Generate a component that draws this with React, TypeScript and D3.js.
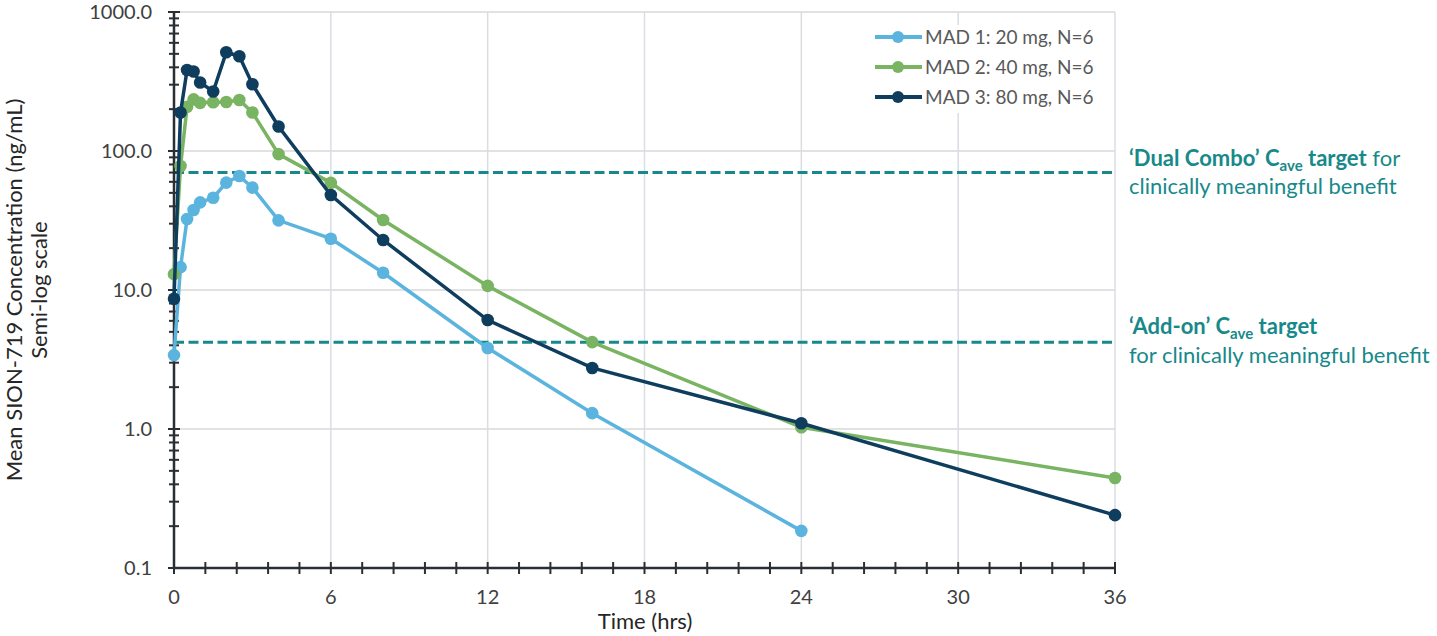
import React from "react";
import * as d3 from "d3";

const times = [0, 0.25, 0.5, 0.75, 1, 1.5, 2, 2.5, 3, 4, 6, 8, 12, 16, 24, 36];
const mad1 = [3.4, 14.6, 32.4, 37.6, 42.7, 46.1, 59.2, 66.1, 54.5, 31.7, 23.4, 13.3, 3.83, 1.3, 0.185, null];
const mad2 = [13.0, 78, 208, 235, 222, 224, 225, 233, 189, 95, 59, 31.9, 10.7, 4.22, 1.03, 0.444];
const mad3 = [8.66, 189, 383, 373, 311, 268, 513, 480, 302, 150, 48.2, 22.9, 6.08, 2.75, 1.1, 0.24];
const seriesNames = ["MAD 1: 20 mg, N=6", "MAD 2: 40 mg, N=6", "MAD 3: 80 mg, N=6"];
const seriesColors = ["#5bb4de", "#79b462", "#0e3d5e"];
const xTicks = [0, 6, 12, 18, 24, 30, 36];
const yTicks = [0.1, 1, 10, 100, 1000];
const dualComboTarget = 70;
const addOnTarget = 4.2;

export default function App() {
  const W = 1437, H = 636;
  const x0 = 174, x1 = 1115, yTop = 12, yBot = 568;
  const x = d3.scaleLinear().domain([0, 36]).range([x0, x1]);
  const y = d3.scaleLog().domain([0.1, 1000]).range([yBot, yTop]);
  const all = [mad1, mad2, mad3];
  const line = d3
    .line<[number, number | null]>()
    .defined((d) => d[1] != null)
    .x((d) => x(d[0]))
    .y((d) => y(d[1] as number));
  const minorX = d3.range(0, 36.001, 1.2);
  const minorY: number[] = [];
  for (let e = -1; e < 3; e++) for (let k = 2; k <= 9; k++) minorY.push(k * Math.pow(10, e));
  const teal = "#17898a";
  const axisCol = "#2b2f33";
  const font = "Lato, 'Open Sans', sans-serif";

  return (
    <svg width={W} height={H} style={{ position: "absolute", left: 0, top: 0 }} fontFamily={font}>
      <rect width={W} height={H} fill="#fff" />
      {/* grid */}
      {yTicks.map((t) => (
        <line key={"gy" + t} x1={x0} x2={x1} y1={y(t)} y2={y(t)} stroke="#d9d9d9" strokeWidth={1.5} />
      ))}
      {xTicks.map((t) => (
        <line key={"gx" + t} x1={x(t)} x2={x(t)} y1={yTop} y2={yBot} stroke="#d9dde2" strokeWidth={1.5} />
      ))}
      {/* legend box */}
      <rect x={862} y={25} width={250} height={88} fill="#fff" />
      {/* target lines */}
      {[dualComboTarget, addOnTarget].map((v) => (
        <line key={"t" + v} x1={x0} x2={x1} y1={y(v)} y2={y(v)} stroke={teal} strokeWidth={3} strokeDasharray="10,4.5" />
      ))}
      {/* axes */}
      <line x1={x0} x2={x0} y1={yTop} y2={yBot} stroke={axisCol} strokeWidth={2.5} />
      <line x1={x0} x2={x1} y1={yBot} y2={yBot} stroke={axisCol} strokeWidth={2.5} />
      {minorY.map((t) => (
        <line key={"my" + t} x1={x0 - 5} x2={x0 + 5} y1={y(t)} y2={y(t)} stroke={axisCol} strokeWidth={2} />
      ))}
      {yTicks.map((t) => (
        <line key={"My" + t} x1={x0 - 6} x2={x0 + 6} y1={y(t)} y2={y(t)} stroke={axisCol} strokeWidth={2} />
      ))}
      {minorX.map((t) => (
        <line key={"mx" + t} x1={x(t)} x2={x(t)} y1={yBot - 6} y2={yBot + 6} stroke={axisCol} strokeWidth={2} />
      ))}
      {yTicks.map((t) => (
        <text key={"ly" + t} x={152} y={y(t) + 7} textAnchor="end" fontSize={20} fill="#404040">
          {d3.format(".1f")(t)}
        </text>
      ))}
      {xTicks.map((t) => (
        <text key={"lx" + t} x={x(t)} y={604} textAnchor="middle" fontSize={20} fill="#404040">
          {t}
        </text>
      ))}
      <text x={645} y={629} textAnchor="middle" fontSize={22} fill="#262626">Time (hrs)</text>
      <text transform="translate(22,290) rotate(-90)" textAnchor="middle" fontSize={22} fill="#262626">
        Mean SION-719 Concentration (ng/mL)
      </text>
      <text transform="translate(47,290) rotate(-90)" textAnchor="middle" fontSize={22} fill="#262626">
        Semi-log scale
      </text>
      {/* series */}
      {all.map((s, i) => {
        const pts = times.map((t, j) => [t, s[j]] as [number, number | null]);
        return (
          <g key={"s" + i}>
            <path d={line(pts) || ""} fill="none" stroke={seriesColors[i]} strokeWidth={3.5} />
            {pts
              .filter((p) => p[1] != null)
              .map((p, j) => (
                <circle key={j} cx={x(p[0])} cy={y(p[1] as number)} r={6.3} fill={seriesColors[i]} />
              ))}
          </g>
        );
      })}
      {/* legend */}
      {seriesNames.map((n, i) => {
        const ly = 37 + i * 30;
        return (
          <g key={"lg" + i}>
            <line x1={875} x2={922} y1={ly} y2={ly} stroke={seriesColors[i]} strokeWidth={4} />
            <circle cx={898} cy={ly} r={6} fill={seriesColors[i]} />
            <text x={925} y={ly + 7} fontSize={19} fill="#595959">{n}</text>
          </g>
        );
      })}
      {/* annotations */}
      <text x={1129} y={166} fontSize={22} fill={teal}>
        <tspan fontWeight="bold">‘Dual Combo’ C</tspan>
        <tspan fontWeight="bold" fontSize={15} dy={5}>ave</tspan>
        <tspan fontWeight="bold" dy={-5}> target</tspan>
        <tspan> for</tspan>
      </text>
      <text x={1129} y={194} fontSize={22} fill={teal}>clinically meaningful benefit</text>
      <text x={1129} y={334} fontSize={22} fill={teal}>
        <tspan fontWeight="bold">‘Add-on’ C</tspan>
        <tspan fontWeight="bold" fontSize={15} dy={5}>ave</tspan>
        <tspan fontWeight="bold" dy={-5}> target</tspan>
      </text>
      <text x={1129} y={363} fontSize={22} fill={teal}>for clinically meaningful benefit</text>
    </svg>
  );
}
